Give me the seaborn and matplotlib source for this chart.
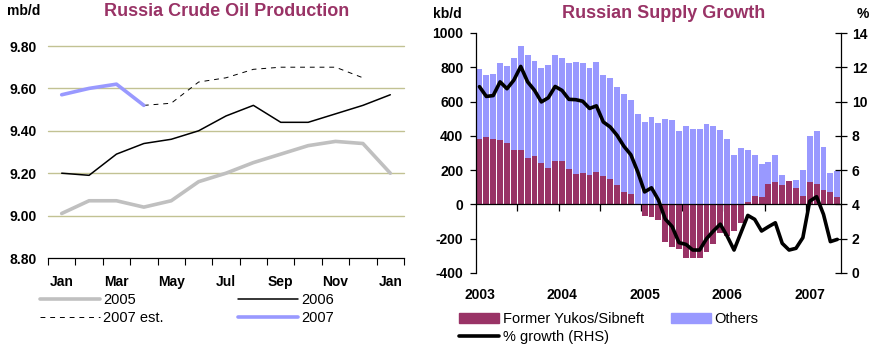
import numpy as np
import matplotlib
matplotlib.use("Agg")
import matplotlib.pyplot as plt
import seaborn as sns
from matplotlib.patches import Patch

# ---------------- Russia crude oil production (mb/d) ----------------
months = ["Jan", "Feb", "Mar", "Apr", "May", "Jun", "Jul",
          "Aug", "Sep", "Oct", "Nov", "Dec", "Jan"]
prod_2005 = [9.01, 9.07, 9.07, 9.04, 9.07, 9.16, 9.20, 9.25, 9.29, 9.33, 9.35, 9.34, 9.20]
prod_2006 = [9.20, 9.19, 9.29, 9.34, 9.36, 9.40, 9.47, 9.52, 9.44, 9.44, 9.48, 9.52, 9.57]
prod_2007 = [9.57, 9.60, 9.62, 9.52]                                   # Jan-Apr
prod_2007_est = [9.52, 9.53, 9.63, 9.65, 9.69, 9.70, 9.70, 9.70, 9.65]  # Apr-Dec
est_start = 3  # estimate begins at April

# ---------------- Russian supply growth (kb/d, y/y) ----------------
supply_months = [f"{y}-{m:02d}" for y in range(2003, 2008) for m in range(1, 13)][:53]
yukos_sibneft = [379, 396, 379, 373, 361, 315, 320, 268, 285, 239, 210, 256,
                 256, 204, 175, 186, 169, 192, 163, 146, 111, 70, 58, 0,
                 -68, -74, -91, -219, -249, -260, -313, -313, -313, -278, -233, -169,
                 -183, -155, -111, 17, 52, 41, 117, 128, 111, 134, 93, 52,
                 128, 117, 82, 70, 41]
others = [413, 361, 384, 454, 449, 541, 606, 606, 554, 559, 606, 618,
          600, 623, 658, 641, 629, 641, 594, 594, 576, 577, 554, 530,
          483, 512, 477, 500, 494, 431, 460, 438, 438, 472, 460, 437,
          379, 287, 332, 303, 239, 192, 133, 159, 58, 3, 47, 146,
          269, 314, 251, 112, 152]
growth_pct = [10.87, 10.30, 10.35, 11.15, 10.75, 11.25, 12.05, 11.15, 10.66, 9.98, 10.22, 10.88,
              10.65, 10.13, 10.11, 10.02, 9.60, 9.75, 8.81, 8.52, 8.03, 7.39, 6.90, 5.91,
              4.73, 4.97, 4.27, 3.15, 2.71, 1.77, 1.67, 1.34, 1.34, 2.00, 2.45, 2.85,
              2.15, 1.34, 2.35, 3.36, 3.13, 2.45, 2.70, 2.93, 1.73, 1.34, 1.44, 2.06,
              4.19, 4.45, 3.42, 1.83, 1.96]
year_labels = ["2003", "2004", "2005", "2006", "2007"]

MAROON = "#993366"
LAVENDER = "#9999FF"
GREY = "#C0C0C0"
GRID = "#C2C293"

sns.set_theme(style="ticks")
plt.rcParams["font.family"] = ["Liberation Sans", "DejaVu Sans"]
plt.rcParams["axes.edgecolor"] = "black"
plt.rcParams["xtick.color"] = "black"
plt.rcParams["ytick.color"] = "black"
plt.rcParams["text.color"] = "black"

W, H = 876, 347
fig = plt.figure(figsize=(W / 100, H / 100), dpi=100)


def box(l, t, r, b):
    return [l / W, 1 - b / H, (r - l) / W, (b - t) / H]


# ======================= left panel =======================
ax1 = fig.add_axes(box(48, 46, 404, 258))
x13 = np.arange(len(months))
sns.lineplot(x=x13, y=prod_2005, ax=ax1, color=GREY, linewidth=2.6)
sns.lineplot(x=x13, y=prod_2006, ax=ax1, color="black", linewidth=1.1)
x_est = np.arange(est_start, est_start + len(prod_2007_est))
sns.lineplot(x=x_est, y=prod_2007_est, ax=ax1, color="black", linewidth=0.7)
ax1.lines[-1].set_dashes((5, 5))
sns.lineplot(x=np.arange(len(prod_2007)), y=prod_2007, ax=ax1, color=LAVENDER, linewidth=2.6)
line_handles = list(ax1.lines)

ax1.set_xlim(-0.5, 12.5)
ax1.set_ylim(8.8, 9.8)
yt = np.round(np.arange(8.8, 9.81, 0.2), 2)
ax1.set_yticks(yt)
ax1.set_yticklabels([f"{v:.2f}" for v in yt], fontweight="bold", fontsize=10)
ax1.set_xticks(x13[::2])
ax1.set_xticklabels(months[::2], fontweight="bold", fontsize=10)
ax1.set_xticks(np.arange(-0.5, 13, 1), minor=True)
ax1.tick_params(axis="x", which="major", length=0, pad=12)
ax1.tick_params(axis="x", which="minor", length=5, width=0.8, direction="out")
ax1.tick_params(axis="y", length=0, pad=8)
for v in yt[1:]:
    ax1.axhline(v, color=GRID, linewidth=1.0, zorder=0, clip_on=False)
for s in ("left", "right", "top"):
    ax1.spines[s].set_visible(False)
ax1.spines["bottom"].set_linewidth(0.9)
ax1.set_xlabel("")
ax1.set_ylabel("")

fig.text(7 / W, 1 - 11 / H, "mb/d", fontsize=10, fontweight="bold", va="center", ha="left")
fig.text(227 / W, 1 - 12 / H, "Russia Crude Oil Production", fontsize=13,
         fontweight="bold", color=MAROON, ha="center", va="center")

fig.legend([line_handles[0], line_handles[2], line_handles[1], line_handles[3]],
           ["2005", "2007 est.", "2006", "2007"],
           loc="upper left", bbox_to_anchor=(40 / W, 1 - 293 / H), ncol=2,
           frameon=False, fontsize=10.5, handlelength=4.1, handletextpad=0.25,
           columnspacing=5.1, borderpad=0, borderaxespad=0, labelspacing=0.25)

# ======================= right panel =======================
ax2 = fig.add_axes(box(476, 33, 840.7, 273))
yk = np.array(yukos_sibneft, dtype=float)
ot = np.array(others, dtype=float)
stack_top = ot + np.clip(yk, 0, None)
sns.barplot(x=supply_months, y=stack_top, order=supply_months, color=LAVENDER,
            saturation=1, width=0.86, errorbar=None, linewidth=0, ax=ax2)
sns.barplot(x=supply_months, y=yk, order=supply_months, color=MAROON,
            saturation=1, width=0.86, errorbar=None, linewidth=0, ax=ax2)
ax2.set_ylim(-400, 1000)
ax2.set_yticks(np.arange(-400, 1001, 200))
ax2.set_yticklabels([str(v) for v in range(-400, 1001, 200)], fontweight="bold", fontsize=10)
ax2.tick_params(axis="y", length=4, width=0.9, direction="out", pad=5)
ax2.spines["top"].set_visible(False)
ax2.spines["right"].set_visible(False)
ax2.spines["bottom"].set_position(("data", 0))
ax2.spines["bottom"].set_linewidth(0.9)
ax2.spines["left"].set_linewidth(0.9)
ax2.set_xticks(np.arange(5.5, 48, 6))
ax2.set_xticklabels([])
ax2.tick_params(axis="x", length=5, width=0.9, direction="out")
for i, yl in enumerate(year_labels):
    ax2.text(12 * i, -0.092, yl, transform=ax2.get_xaxis_transform(), ha="center",
             va="center", fontsize=10, fontweight="bold")
ax2.set_xlabel("")
ax2.set_ylabel("")

ax3 = ax2.twinx()
sns.lineplot(x=np.arange(len(growth_pct)), y=growth_pct, ax=ax3, color="black", linewidth=2.6)
ax3.lines[-1].set_solid_joinstyle("round")
ax3.set_ylim(0, 14)
ax3.set_yticks(np.arange(0, 15, 2))
ax3.set_yticklabels([str(v) for v in range(0, 15, 2)], fontweight="bold", fontsize=10)
ax3.tick_params(axis="y", length=8, width=0.9, direction="inout", pad=4)
for s in ("left", "top", "bottom"):
    ax3.spines[s].set_visible(False)
ax3.spines["right"].set_linewidth(0.9)
ax3.set_xlim(-0.5, 52.5)
ax2.set_xlim(-0.5, 52.5)
ax3.set_ylabel("")

fig.text(433 / W, 1 - 14 / H, "kb/d", fontsize=10, fontweight="bold", va="center", ha="left")
fig.text(857 / W, 1 - 14 / H, "%", fontsize=10, fontweight="bold", va="center", ha="left")
fig.text(664 / W, 1 - 13 / H, "Russian Supply Growth", fontsize=13,
         fontweight="bold", color=MAROON, ha="center", va="center")

growth_handle = ax3.lines[-1]
fig.legend([Patch(color=MAROON), growth_handle, Patch(color=LAVENDER)],
           ["Former Yukos/Sibneft", "% growth (RHS)", "Others"],
           loc="upper left", bbox_to_anchor=(459 / W, 1 - 312 / H), ncol=2,
           frameon=False, fontsize=10.5, handlelength=2.75, handletextpad=0.25,
           columnspacing=1.85, borderpad=0, borderaxespad=0, labelspacing=0.25)

fig.savefig("out.png", dpi=100)
